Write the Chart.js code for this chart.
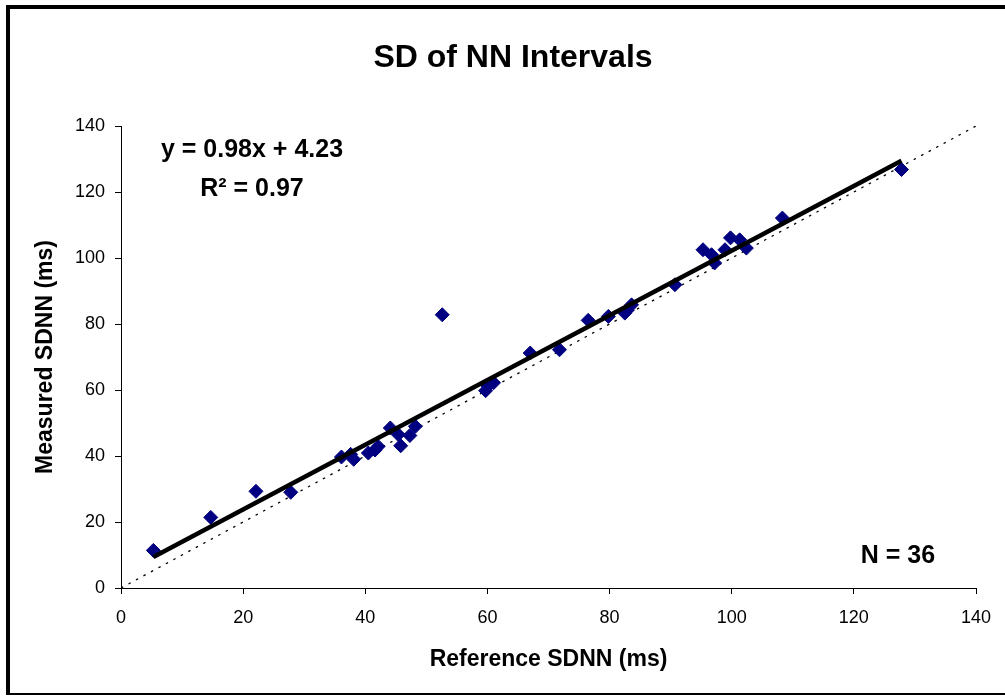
<!DOCTYPE html>
<html>
<head>
<meta charset="utf-8">
<script src="https://cdn.jsdelivr.net/npm/chart.js@4/dist/chart.umd.min.js"></script>
<style>
  html, body { margin: 0; padding: 0; background: #fff; }
  #wrap { width: 1005px; height: 696px; }
</style>
</head>
<body>
<div id="wrap"><canvas id="chart" width="1005" height="696"></canvas></div>
<script>
// reference vs measured SDNN (ms)
const refSDNN = [5.3, 14.7, 22.1, 27.8, 36.1, 37.6, 38.1, 40.5, 41.6, 42.1, 44.1, 45.4, 45.8, 47.3, 48.2,
  52.6, 59.7, 60.1, 61.0, 67.0, 71.8, 76.5, 79.8, 82.5, 82.9, 83.6, 90.7, 95.3, 96.7, 97.2, 98.9, 99.8,
  101.3, 102.4, 108.3, 127.8];
const measSDNN = [11.4, 21.4, 29.3, 29.0, 39.7, 40.5, 39.0, 40.9, 41.8, 42.9, 48.5, 46.5, 43.1, 46.2, 49.0,
  82.8, 59.8, 61.2, 62.2, 71.2, 72.2, 81.1, 82.3, 83.3, 84.2, 85.8, 91.9, 102.5, 101.0, 98.5, 102.5, 106.1,
  105.5, 103.0, 112.1, 126.8];

const slope = 0.98;
const intercept = 4.23;
const rSquared = 0.97;
const axisTicks = [0, 20, 40, 60, 80, 100, 120, 140];

const titleText = 'SD of NN Intervals';
const xTitle = 'Reference SDNN (ms)';
const yTitle = 'Measured SDNN (ms)';

const FONT = 'Arial, "Liberation Sans", sans-serif';

const points = refSDNN.map((x, i) => ({ x: x, y: measSDNN[i] }));
const xMin = Math.min(...refSDNN);
const xMax = Math.max(...refSDNN);
const trend = [xMin, xMax].map(x => ({ x: x, y: slope * x + intercept }));
const identity = [axisTicks[0], axisTicks[axisTicks.length - 1]].map(v => ({ x: v, y: v }));

const textPlugin = {
  id: 'texts',
  afterDraw(chart) {
    const ctx = chart.ctx;
    ctx.save();
    ctx.fillStyle = '#000';
    // outer frame
    ctx.fillRect(6, 5, 999, 4);
    ctx.fillRect(6, 5, 4, 690);
    ctx.fillRect(6, 693, 999, 2);

    ctx.textAlign = 'center';
    ctx.textBaseline = 'alphabetic';
    ctx.font = 'bold 32px ' + FONT;
    ctx.fillText(titleText, 513, 67);

    ctx.font = 'bold 25px ' + FONT;
    ctx.fillText('y = ' + slope.toFixed(2) + 'x + ' + intercept.toFixed(2), 252, 157);
    ctx.fillText('R\u00B2 = ' + rSquared.toFixed(2), 252, 196);
    ctx.fillText('N = ' + refSDNN.length, 898, 563);
    ctx.restore();
  }
};

const axisCommon = {
  type: 'linear',
  min: 0,
  max: 140,
  grid: { display: true, drawOnChartArea: false, drawTicks: true, tickLength: 6, color: '#000', lineWidth: 1 },
  border: { display: true, color: '#000', width: 1 },
  afterBuildTicks: (scale) => { scale.ticks = axisTicks.map(v => ({ value: v })); }
};

new Chart(document.getElementById('chart'), {
  type: 'scatter',
  data: {
    datasets: [
      {
        label: 'trend',
        type: 'line',
        data: trend,
        borderColor: '#000',
        borderWidth: 4.5,
        pointRadius: 0,
        fill: false,
        order: 0
      },
      {
        label: 'SDNN',
        data: points,
        pointStyle: 'rectRot',
        pointRadius: 7,
        backgroundColor: '#000080',
        borderColor: '#000080',
        borderWidth: 1,
        order: 1
      },
      {
        label: 'identity',
        type: 'line',
        data: identity,
        borderColor: '#000',
        borderWidth: 1.3,
        borderDash: [2.5, 6],
        pointRadius: 0,
        fill: false,
        order: 2
      }
    ]
  },
  options: {
    responsive: false,
    animation: false,
    layout: { padding: { left: 0, top: 126, right: 29, bottom: 0 } },
    plugins: {
      legend: { display: false },
      tooltip: { enabled: false },
      title: { display: false }
    },
    scales: {
      x: Object.assign({}, axisCommon, {
        position: 'bottom',
        ticks: { color: '#000', padding: 13, maxRotation: 0, font: { family: FONT, size: 18 } },
        title: { display: true, text: xTitle, color: '#000', padding: { top: 0, bottom: 23 }, font: { family: FONT, size: 23, weight: 'bold' } },
        afterFit: (scale) => { scale.height = 108; }
      }),
      y: Object.assign({}, axisCommon, {
        position: 'left',
        ticks: { color: '#000', padding: 10, font: { family: FONT, size: 18 } },
        title: { display: true, text: yTitle, color: '#000', padding: { top: 32, bottom: 0 }, font: { family: FONT, size: 23, weight: 'bold' } },
        afterFit: (scale) => { scale.width = 121; }
      })
    }
  },
  plugins: [textPlugin]
});
</script>
</body>
</html>
